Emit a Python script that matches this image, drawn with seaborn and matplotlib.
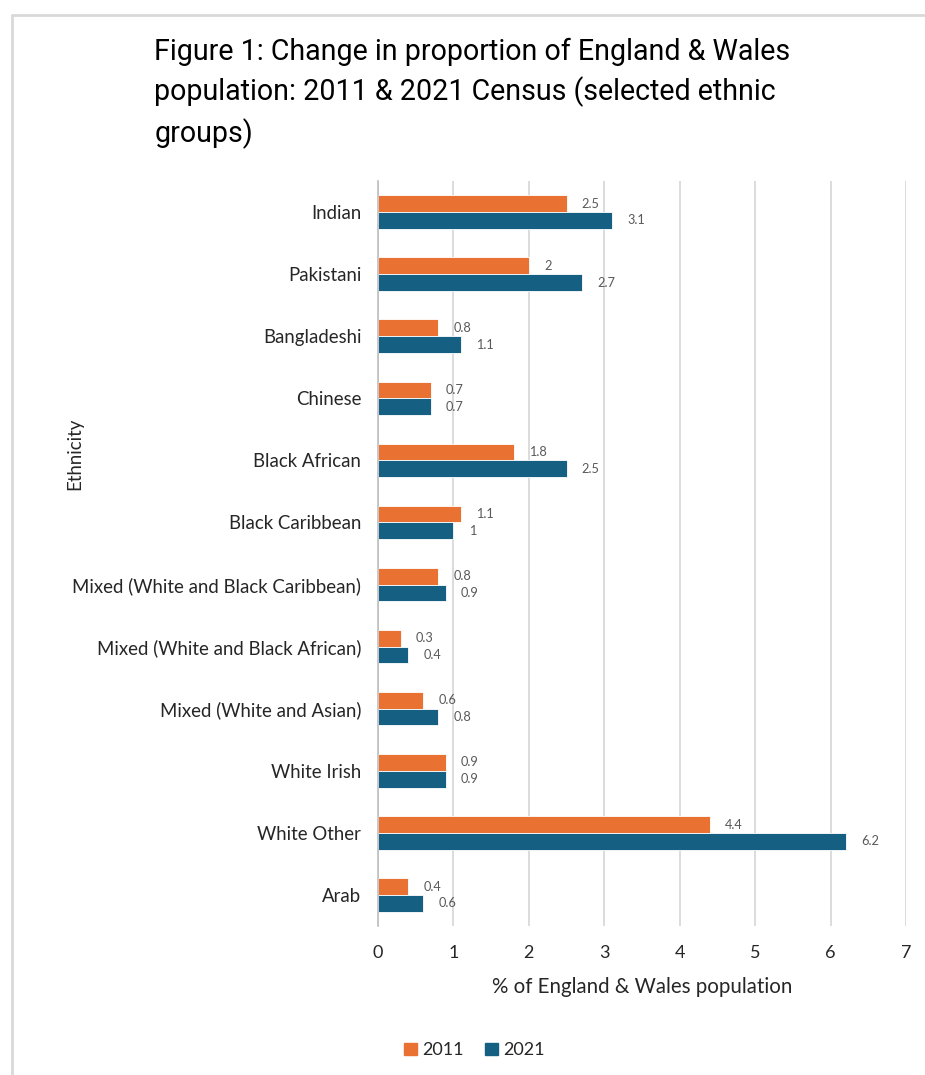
import matplotlib
matplotlib.use("Agg")
import matplotlib.pyplot as plt
import pandas as pd
import seaborn as sns
from matplotlib.patches import Rectangle

groups = [
    "Indian", "Pakistani", "Bangladeshi", "Chinese", "Black African",
    "Black Caribbean", "Mixed (White and Black Caribbean)",
    "Mixed (White and Black African)", "Mixed (White and Asian)",
    "White Irish", "White Other", "Arab",
]
pct_2011 = [2.5, 2, 0.8, 0.7, 1.8, 1.1, 0.8, 0.3, 0.6, 0.9, 4.4, 0.4]
pct_2021 = [3.1, 2.7, 1.1, 0.7, 2.5, 1, 0.9, 0.4, 0.8, 0.9, 6.2, 0.6]
years = ["2011", "2021"]
colors = {"2011": "#E97132", "2021": "#156082"}

df = pd.DataFrame({
    "Ethnicity": groups * 2,
    "Year": [years[0]] * len(groups) + [years[1]] * len(groups),
    "Percent": pct_2011 + pct_2021,
})

sns.set_theme(style="white")
plt.rcParams["font.family"] = ["Lato", "DejaVu Sans"]

fig = plt.figure(figsize=(9.25, 10.75), dpi=100)
ax = fig.add_axes([0.4086, 0.1386, 0.5708, 0.6930])

sns.barplot(
    data=df, y="Ethnicity", x="Percent", hue="Year", order=groups,
    hue_order=years, palette=colors, saturation=1, orient="h", width=0.54,
    edgecolor="white", linewidth=0.6, legend=False, ax=ax,
)

ax.set_xlim(0, 7)
ax.set_xticks(range(0, 8))
ax.set_xticklabels([str(i) for i in range(0, 8)], fontsize=13, color="#262626")
ax.tick_params(axis="y", labelsize=13.4, labelcolor="#262626", length=0, pad=12)
ax.tick_params(axis="x", length=0, pad=14)
ax.set_ylabel("")
ax.set_xlabel("% of England & Wales population", fontsize=14.8, color="#262626",
              labelpad=11)
ax.grid(axis="x", color="#d9d9d9", linewidth=1.3)
ax.set_axisbelow(True)
for side in ["top", "right", "bottom"]:
    ax.spines[side].set_visible(False)
ax.spines["left"].set_color("#bfbfbf")
ax.spines["left"].set_linewidth(1.2)

# value labels at the end of each bar
for container, vals in zip(ax.containers, [pct_2011, pct_2021]):
    labels = [f"{v:g}" for v in vals]
    ax.bar_label(container, labels=labels, padding=11, fontsize=9.2,
                 color="#595959")

fig.text(0.081, 0.578, "Ethnicity", rotation=90, ha="center", va="center",
         fontsize=13.4, color="#262626")

fig.text(0.167, 0.965,
         "Figure 1: Change in proportion of England & Wales\n"
         "population: 2011 & 2021 Census (selected ethnic\n"
         "groups)",
         ha="left", va="top", fontsize=20.6, color="#000000",
         linespacing=1.45, family=["Roboto", "DejaVu Sans"])

handles = [Rectangle((0, 0), 1, 1, color=colors[y]) for y in years]
fig.legend(handles, years, loc="center", bbox_to_anchor=(0.513, 0.023),
           ncol=2, frameon=False, fontsize=13, handlelength=0.7,
           handleheight=0.7, handletextpad=0.3, columnspacing=1.2)

# thin frame around the chart area
fig.add_artist(plt.Line2D([0.013, 1.0], [0.986, 0.986], color="#d9d9d9",
                          linewidth=2, transform=fig.transFigure))
fig.add_artist(plt.Line2D([0.013, 0.013], [0.0, 0.986], color="#d9d9d9",
                          linewidth=2, transform=fig.transFigure))

fig.savefig("out.png", dpi=100, facecolor="white")
